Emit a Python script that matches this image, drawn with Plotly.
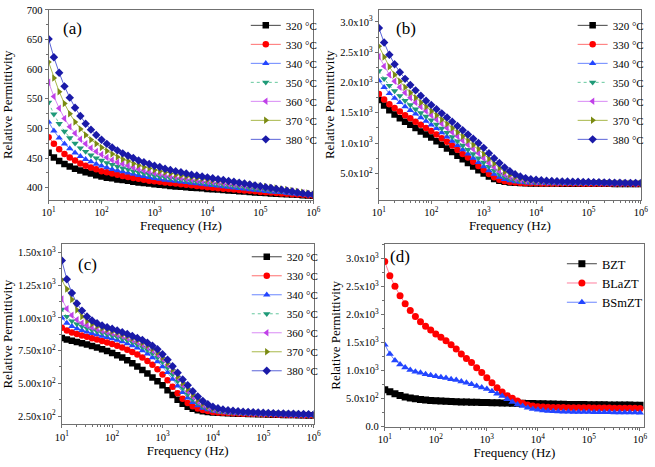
import plotly.graph_objects as go

FONT = "'Liberation Serif', 'Times New Roman', Times, serif"

freq = [10, 12.59, 15.85, 19.95, 25.12, 31.62, 39.81, 50.12, 63.10, 79.43,
        100, 125.9, 158.5, 199.5, 251.2, 316.2, 398.1, 501.2, 631.0, 794.3,
        1000, 1259, 1585, 1995, 2512, 3162, 3981, 5012, 6310, 7943,
        1e4, 12589, 15849, 19953, 25119, 31623, 39811, 50119, 63096, 79433,
        1e5, 125893, 158489, 199526, 251189, 316228, 398107, 501187, 630957, 794328, 1e6]

temps = ["320 °C", "330 °C", "340 °C", "350 °C", "360 °C", "370 °C", "380 °C"]
samples = ["BZT", "BLaZT", "BSmZT"]

# Panel (a)
a_320 = [459, 451, 445, 440, 436, 432, 429, 426, 424, 421, 419, 417, 416, 414, 413, 412, 410, 409, 408, 407,
         406, 405, 404, 403, 402, 401.5, 401, 400, 399.5, 399, 398, 397.5, 397, 396, 395.5, 395, 394, 393.5, 393, 392,
         391.5, 391, 390.5, 390, 389.5, 389, 388.5, 388, 387.5, 387, 386.5]
a_330 = [485, 474, 465, 457, 451, 446, 441, 437, 434, 431, 428, 426, 424, 422, 420, 418, 416.5, 415, 413.5, 412,
         411, 410, 409, 408, 407, 406, 405, 404, 403, 402, 401, 400, 399, 398.5, 398, 397, 396, 395.5, 395, 394,
         393, 392.5, 392, 391, 390.5, 390, 389, 388.5, 388, 387.5, 387]
a_340 = [511, 496, 484, 474, 466, 459, 453, 448, 444, 440, 437, 434, 431, 429, 427, 425, 423, 421, 419, 417.5,
         416, 414.5, 413, 412, 411, 410, 409, 408, 407, 406, 405, 404, 403, 402, 401, 400, 399, 398, 397, 396,
         395, 394, 393, 392.5, 392, 391, 390, 389.5, 389, 388, 387.5]
a_350 = [544, 524, 508, 495, 484, 475, 467, 461, 455, 450, 446, 442, 439, 436, 433, 431, 428, 426, 424, 422,
         420, 418.5, 417, 415.5, 414, 413, 412, 410.5, 409.5, 408.5, 407.5, 406.5, 405.5, 404.5, 403.5, 402.5, 401.5, 400.5, 399.5, 398.5,
         397.5, 396.5, 395.5, 394.5, 393.5, 392.5, 391.5, 390.5, 389.5, 388.5, 388]
a_360 = [578, 554, 534, 517, 503, 492, 482, 474, 467, 461, 456, 451, 447, 443, 440, 437, 434, 431, 429, 427,
         425, 423, 421, 419.5, 418, 416.5, 415, 414, 412.5, 411.5, 410.5, 409.5, 408.5, 407.5, 406.5, 405.5, 404.5, 403.5, 402.5, 401.5,
         400.5, 399.5, 398.5, 397.5, 396, 395, 394, 393, 391.5, 390, 388.5]
a_370 = [612, 585, 562, 542, 525, 511, 499, 489, 481, 474, 468, 462, 457, 452, 448, 445, 441, 438, 435, 433,
         430, 428, 426, 424, 422, 420.5, 419, 417.5, 416, 415, 413.5, 412.5, 411.5, 410.5, 409.5, 408.5, 407.5, 406.5, 405, 404,
         403, 402, 401, 399.5, 398, 397, 395.5, 394, 392.5, 391, 389.5]
a_380 = [651, 620, 594, 571, 552, 535, 521, 508, 498, 489, 481, 474, 468, 463, 458, 454, 450, 446, 443, 440,
         437, 435, 432, 430, 428, 426, 424, 422, 420.5, 419, 417.5, 416, 414.5, 413, 411.5, 410, 408.5, 407, 405.5, 404,
         402.5, 401, 399.5, 398, 396.5, 395, 393.5, 392, 390.5, 389.5, 388.5]

# Panel (b)
b_320 = [1710, 1620, 1540, 1470, 1410, 1350, 1300, 1250, 1190, 1140, 1090, 1030, 970, 910, 850, 790, 730, 670, 610, 550,
         495, 445, 405, 378, 360, 349, 342, 338, 335, 333, 332, 331, 331, 330, 330, 329, 329, 328, 328, 327,
         327, 326, 326, 325, 325, 324, 324, 323, 323, 322, 322]
b_330 = [1810, 1720, 1640, 1580, 1520, 1460, 1410, 1350, 1300, 1250, 1200, 1140, 1080, 1020, 960, 890, 820, 760, 690, 620,
         555, 490, 435, 395, 370, 355, 346, 340, 337, 335, 334, 333, 333, 332, 332, 331, 331, 330, 330, 329,
         329, 328, 328, 327, 327, 326, 326, 325, 325, 324, 324]
b_340 = [2030, 1920, 1820, 1740, 1670, 1600, 1540, 1480, 1420, 1360, 1300, 1240, 1170, 1100, 1030, 960, 890, 820, 750, 680,
         610, 545, 485, 435, 400, 377, 362, 353, 347, 343, 340, 339, 338, 337, 336, 336, 335, 334, 334, 333,
         333, 332, 332, 331, 331, 330, 330, 329, 329, 328, 328]
b_350 = [2190, 2060, 1950, 1860, 1780, 1700, 1630, 1560, 1500, 1440, 1380, 1310, 1240, 1170, 1100, 1030, 960, 890, 820, 750,
         680, 610, 545, 485, 438, 405, 382, 368, 358, 352, 348, 346, 344, 343, 342, 341, 340, 339, 338, 337,
         337, 336, 335, 335, 334, 333, 333, 332, 331, 331, 330]
b_360 = [2430, 2270, 2130, 2020, 1920, 1830, 1750, 1670, 1600, 1530, 1460, 1390, 1320, 1250, 1180, 1110, 1040, 970, 900, 830,
         750, 670, 600, 535, 480, 438, 408, 388, 375, 366, 360, 356, 353, 351, 349, 347, 346, 345, 344, 343,
         342, 341, 340, 339, 338, 337, 336, 335, 334, 333, 332]
b_370 = [2600, 2420, 2260, 2130, 2020, 1920, 1830, 1750, 1670, 1600, 1530, 1460, 1390, 1320, 1250, 1180, 1110, 1040, 970, 900,
         820, 740, 660, 590, 525, 475, 438, 410, 392, 380, 372, 366, 362, 359, 356, 354, 352, 350, 348, 347,
         345, 344, 343, 342, 341, 340, 339, 338, 337, 336, 335]
b_380 = [2900, 2660, 2460, 2300, 2170, 2060, 1960, 1870, 1780, 1700, 1630, 1560, 1490, 1420, 1350, 1280, 1210, 1140, 1070, 1000,
         920, 830, 750, 670, 595, 535, 485, 448, 420, 403, 392, 385, 378, 373, 369, 366, 363, 361, 359, 357,
         355, 353, 351, 349, 347, 345, 343, 341, 340, 339, 338]

# Panel (c)
c_320 = [846, 834, 825, 816, 806, 796, 785, 773, 760, 746, 731, 715, 697, 677, 654, 628, 602, 575, 545, 515,
         485, 448, 410, 375, 345, 322, 305, 294, 287, 282, 278, 275, 273, 271, 269, 268, 267, 266, 265, 264,
         263, 262, 261, 260, 259, 258, 258, 257, 256, 255, 254]
c_330 = [925, 903, 888, 876, 865, 855, 845, 834, 823, 812, 800, 787, 773, 757, 740, 720, 697, 671, 641, 607,
         568, 523, 473, 425, 383, 350, 325, 308, 296, 288, 282, 278, 275, 273, 271, 269, 268, 267, 266, 265,
         264, 263, 262, 261, 260, 259, 258, 258, 257, 256, 255]
c_340 = [1000, 960, 935, 918, 905, 893, 882, 871, 861, 851, 841, 830, 818, 804, 788, 770, 749, 725, 697, 665,
         628, 583, 532, 480, 430, 388, 354, 329, 311, 299, 290, 284, 280, 277, 274, 272, 270, 269, 268, 266,
         265, 264, 263, 262, 261, 260, 259, 258, 258, 257, 256]
c_350 = [1065, 1010, 975, 952, 935, 920, 907, 895, 884, 874, 864, 853, 841, 828, 813, 796, 777, 755, 729, 698,
         662, 618, 568, 515, 463, 417, 378, 347, 324, 308, 297, 289, 284, 280, 277, 275, 273, 271, 270, 268,
         267, 266, 265, 264, 263, 262, 261, 260, 259, 258, 257]
c_360 = [1144, 1070, 1020, 985, 960, 942, 927, 914, 902, 892, 882, 871, 859, 846, 831, 815, 797, 776, 751, 721,
         685, 642, 593, 540, 488, 440, 398, 362, 335, 316, 303, 294, 288, 283, 280, 277, 275, 273, 271, 270,
         268, 267, 266, 265, 264, 263, 262, 261, 260, 259, 258]
c_370 = [1290, 1220, 1140, 1060, 1010, 975, 952, 935, 921, 909, 898, 886, 873, 859, 844, 828, 810, 789, 764, 735,
         698, 655, 605, 553, 503, 457, 413, 375, 345, 323, 308, 298, 291, 286, 282, 279, 277, 275, 273, 272,
         270, 269, 268, 267, 266, 265, 264, 263, 262, 261, 260]
c_380 = [1437, 1295, 1190, 1110, 1055, 1010, 980, 958, 942, 928, 916, 903, 890, 876, 862, 846, 830, 810, 787, 760,
         722, 680, 630, 580, 530, 485, 440, 400, 365, 340, 322, 310, 301, 295, 290, 286, 283, 281, 279, 277,
         275, 273, 272, 270, 269, 268, 267, 266, 265, 264, 263]

# Panel (d)
d_bzt = [656, 622, 585, 555, 528, 508, 495, 484, 474, 466, 460, 455, 450, 446, 442, 439, 436, 433, 431, 429,
         427, 425, 423, 421, 419, 417, 415, 413, 411, 409, 407, 405, 403, 401, 399, 397, 395, 393, 392, 391,
         390, 389, 388, 387, 386, 385, 384, 383, 382, 381, 380]
d_blazt = [2940, 2690, 2500, 2330, 2190, 2070, 1960, 1870, 1790, 1720, 1650, 1590, 1530, 1460, 1380, 1295, 1215, 1140, 1050, 965,
           870, 780, 690, 615, 550, 505, 453, 415, 383, 365, 352, 346, 343, 341, 339, 338, 337, 336, 335, 334,
           333, 332, 331, 330, 329, 328, 327, 326, 325, 324, 323]
d_bsmzt = [1460, 1294, 1178, 1108, 1052, 1010, 978, 957, 934, 914, 897, 880, 865, 844, 828, 805, 780, 755, 724, 697,
           668, 628, 583, 543, 487, 437, 395, 365, 336, 314, 297, 285, 277, 271, 267, 264, 262, 260, 259, 258,
           257, 256, 255, 254, 253, 252, 251, 250, 249, 248, 247]

a_vals = [a_320, a_330, a_340, a_350, a_360, a_370, a_380]
b_vals = [b_320, b_330, b_340, b_350, b_360, b_370, b_380]
c_vals = [c_320, c_330, c_340, c_350, c_360, c_370, c_380]
d_vals = [d_bzt, d_blazt, d_bsmzt]

marker_colors = ["#000000", "#ff0000", "#2346ff", "#1f9a78", "#c040e8", "#7a8a12", "#1a1aa8"]
line_colors = ["#444444", "#ff6f6f", "#6a86ff", "#66c89e", "#d98af5", "#a8b84a", "#5a64d8"]
line_dash = ["solid", "solid", "solid", "dot", "solid", "solid", "solid"]
symbols = ["square", "circle", "triangle-up", "triangle-down", "triangle-left", "triangle-right", "diamond"]

fig = go.Figure()

panels = [
    ("x", "y", "legend", a_vals),
    ("x2", "y2", "legend2", b_vals),
    ("x3", "y3", "legend3", c_vals),
]
for xa, ya, lg, vals in panels:
    for i, v in enumerate(vals):
        fig.add_trace(go.Scatter(
            x=freq, y=v, name=temps[i], xaxis=xa, yaxis=ya, legend=lg,
            mode="lines+markers",
            line=dict(color=line_colors[i], width=1, dash=line_dash[i]),
            marker=dict(symbol=symbols[i], size=6.5, color=marker_colors[i], line=dict(width=0)),
        ))

d_marker = ["#000000", "#ff0000", "#2346ff"]
d_line = ["#444444", "#ff7f9f", "#6a86ff"]
d_sym = ["square", "circle", "triangle-up"]
for i, v in enumerate(d_vals):
    fig.add_trace(go.Scatter(
        x=freq, y=v, name=samples[i], xaxis="x4", yaxis="y4", legend="legend4",
        mode="lines+markers",
        line=dict(color=d_line[i], width=1),
        marker=dict(symbol=d_sym[i], size=7, color=d_marker[i], line=dict(width=0)),
    ))

W, H = 655, 467

def dom_x(l, r):
    return [l / W, r / W]

def dom_y(t, b):
    return [1 - b / H, 1 - t / H]

xt_vals = [10, 100, 1000, 1e4, 1e5, 1e6]
xt_text = ["10<sup>1</sup>", "10<sup>2</sup>", "10<sup>3</sup>", "10<sup>4</sup>", "10<sup>5</sup>", "10<sup>6</sup>"]
minor_x = [m * 10 ** e for e in range(1, 6) for m in range(2, 10)]

axcol = "#707070"
tickfont = dict(family=FONT, size=10.5, color="#000")
titlefont = dict(family=FONT, size=13, color="#000")

def xaxis(domain, anchor, rng):
    return dict(domain=domain, anchor=anchor, type="log", range=rng,
                tickmode="array", tickvals=xt_vals, ticktext=xt_text,
                ticks="outside", ticklen=3, tickcolor=axcol, tickwidth=1,
                minor=dict(ticks="outside", ticklen=2, tickcolor=axcol, tickmode="array", tickvals=minor_x),
                showline=True, linecolor=axcol, linewidth=1, mirror=True,
                showgrid=False, zeroline=False, tickfont=tickfont,
                ticklabeloverflow="allow",
                title=dict(text="Frequency (Hz)", font=titlefont, standoff=0))

def yaxis(domain, anchor, rng, tv, tt, mdt, standoff):
    return dict(domain=domain, anchor=anchor, range=rng,
                tickmode="array", tickvals=tv, ticktext=tt,
                ticks="outside", ticklen=3, tickcolor=axcol, tickwidth=1,
                minor=dict(ticks="outside", ticklen=2, tickcolor=axcol, dtick=mdt),
                showline=True, linecolor=axcol, linewidth=1, mirror=True,
                showgrid=False, zeroline=False, tickfont=tickfont,
                ticklabeloverflow="allow",
                title=dict(text="Relative Permittivity", font=titlefont, standoff=standoff))

a_ticks = [400, 450, 500, 550, 600, 650, 700]
a_text = ["400", "450", "500", "550", "600", "650", "700"]
b_ticks = [500, 1000, 1500, 2000, 2500, 3000]
b_text = ["5.0x10<sup>2</sup>", "1.0x10<sup>3</sup>", "1.5x10<sup>3</sup>", "2.0x10<sup>3</sup>", "2.5x10<sup>3</sup>", "3.0x10<sup>3</sup>"]
c_ticks = [250, 500, 750, 1000, 1250, 1500]
c_text = ["2.50x10<sup>2</sup>", "5.00x10<sup>2</sup>", "7.50x10<sup>2</sup>", "1.00x10<sup>3</sup>", "1.25x10<sup>3</sup>", "1.50x10<sup>3</sup>"]
d_ticks = [0, 500, 1000, 1500, 2000, 2500, 3000]
d_text = ["0.0", "5.0x10<sup>2</sup>", "1.0x10<sup>3</sup>", "1.5x10<sup>3</sup>", "2.0x10<sup>3</sup>", "2.5x10<sup>3</sup>", "3.0x10<sup>3</sup>"]

def legend(x, y, size):
    return dict(x=x / W, y=1 - y / H, xanchor="left", yanchor="top",
                bgcolor="rgba(0,0,0,0)", font=dict(family=FONT, size=size, color="#000"),
                tracegroupgap=0, itemwidth=30)

fig.update_layout(
    width=W, height=H, margin=dict(l=0, r=0, t=0, b=0),
    paper_bgcolor="white", plot_bgcolor="white",
    font=dict(family=FONT, color="#000"),
    xaxis=xaxis(dom_x(42.5, 313), "y", [1, 6]),
    yaxis=yaxis(dom_y(5, 199.3), "x", [380, 700], a_ticks, a_text, 25, 11),
    xaxis2=xaxis(dom_x(380, 647.7), "y2", [1, 6]),
    yaxis2=yaxis(dom_y(5, 199.3), "x2", [65, 3200], b_ticks, b_text, 250, 2),
    xaxis3=xaxis(dom_x(56, 313.3), "y3", [1, 6]),
    yaxis3=yaxis(dom_y(245, 429.3), "x3", [188, 1562], c_ticks, c_text, 125, 6),
    xaxis4=xaxis(dom_x(386, 651), "y4", [1, 6.08]),
    yaxis4=yaxis(dom_y(245, 431.7), "x4", [0, 3250], d_ticks, d_text, 250, 2),
    legend=legend(244, 6, 11),
    legend2=legend(578, 6, 11),
    legend3=legend(245, 243, 11),
    legend4=legend(567, 250, 12.5),
    showlegend=True,
)

labels = [("(a)", 67, 24), ("(b)", 408, 24), ("(c)", 82, 266), ("(d)", 402, 258)]
for t, x, y in labels:
    fig.add_annotation(text=t, x=x / W, y=1 - y / H, xref="paper", yref="paper",
                       xanchor="center", yanchor="middle",
                       showarrow=False, font=dict(family=FONT, size=17, color="#000"))

fig.write_html("out.html", config={"displayModeBar": False},
               post_script="document.body.style.margin='0px';document.body.style.padding='0px';")
